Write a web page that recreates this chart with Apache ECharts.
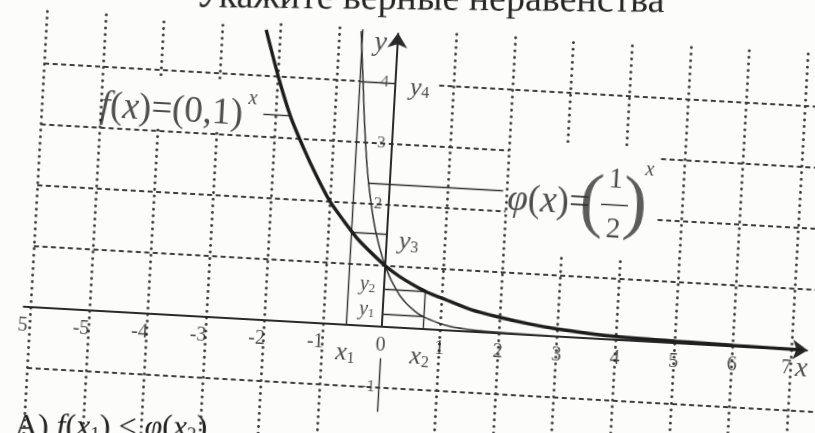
<!DOCTYPE html>
<html>
<head>
<meta charset="utf-8">
<title>f(x)=(0,1)^x и φ(x)=(1/2)^x</title>
<script src="https://cdn.jsdelivr.net/npm/echarts@6/dist/echarts.min.js"></script>
<style>
html, body { margin: 0; padding: 0; width: 815px; height: 433px; overflow: hidden; background: #fcfcfb; }
/* the page was scanned a little askew, so the whole drawing is turned a few degrees */
#chart { position: absolute; left: -40px; top: -40px; width: 895px; height: 513px; transform: rotate(3.2deg); }
</style>
</head>
<body>
<div id="chart"></div>
<script>
// values, in graph units
var halfCurve = [[-2.25, 4.75], [-2, 4.0], [-1.75, 3.35], [-1.5, 2.85], [-1.25, 2.4], [-1, 2.0], [-0.75, 1.7],
    [-0.5, 1.42], [-0.25, 1.2], [0, 1.0], [0.25, 0.84], [0.5, 0.71], [0.75, 0.6], [1, 0.52], [1.5, 0.36],
    [2, 0.26], [2.5, 0.18], [3, 0.12], [3.5, 0.08], [4, 0.05], [5, 0.03], [6, 0.015], [7.2, 0.0]];
var tenthCurve = [[-0.63, 4.82], [-0.59, 4.4], [-0.55, 4.0], [-0.5, 3.45], [-0.45, 3.0], [-0.4, 2.6],
    [-0.35, 2.28], [-0.3, 2.02], [-0.25, 1.78], [-0.2, 1.58], [-0.15, 1.41], [-0.1, 1.26], [-0.05, 1.12],
    [0, 1.0], [0.1, 0.8], [0.2, 0.64], [0.3, 0.5], [0.4, 0.4], [0.5, 0.32], [0.6, 0.25], [0.7, 0.2],
    [0.8, 0.16], [0.9, 0.13], [1, 0.1], [1.2, 0.06], [1.4, 0.04], [1.7, 0.02], [2.2, 0.01], [3, 0.0]];

var x1 = -0.6, x2 = 0.7;
var y1 = 0.2, y2 = 0.62, y3 = 1.52, y4 = 4;

var xTickValues = [-6, -5, -4, -3, -2, -1, 0, 1, 2, 3, 4, 5, 6, 7];
var xTickText = ['5', '-5', '-4', '-3', '-2', '-1', '0', '1', '2', '3', '4', '5', '6', '7'];
var yTickValues = [4, 3, 2, -1];
var yTickText = ['4', '3', '2', '-1'];

// dotted verticals, with the pieces left blank behind the formulas
var gridXs = [-6, -5, -4, -3, -2, -1, 1, 2, 3, 4, 5, 6, 7];
var gridTop = 4.85, gridBottom = -2.4;
var gridGaps = { '-4': [3.08, 3.92], '-3': [3.08, 3.92], '3': [1.36, 3.2], '4': [1.36, 3.2] };
// dashed horizontals: [y, from x, to x]
var gridRows = [[4, -6, x1], [4, 0.75, 8], [3, -6, 2], [3, 4.6, 8], [2, -6, 2], [2, 4.6, 8], [1, -6, 8], [-1, -6, 8]];

var axisArrows = [[[-6.13, 0], [7.28, 0]], [[0, 0], [0, 4.82]]];
var helperLines = [
    [[0, -1.4], [0, -0.52]],          // y axis below the "0"
    [[x1, 0], [x1, 4.85]],
    [[x1, y4], [0, y4]],
    [[x1, y3], [0, y3]],
    [[0, y2], [x2, y2]],
    [[0, y1], [x2, y1]],
    [[x2, 0], [x2, y2]],
    [[-0.37, 2.34], [1.94, 2.34]],    // leader to φ(x)
    [[-2.22, 3.37], [-1.76, 3.37]],   // leader from f(x)
    [[3.62, 2.21], [4.08, 2.21]]      // fraction bar 1/2
];

// [x, y, kind, text]
var mathLabels = [
    [-5.0, 3.33, 'formula', '{i|f}{n|(}{i|x}{n|)=(0,1)}'],
    [-2.41, 3.6, 'sup', 'x'],
    [2.03, 2.18, 'formula', '{i|φ}{n|(}{i|x}{n|)=}'],
    [3.46, 2.2, 'paren', '('],
    [4.2, 2.2, 'paren', ')'],
    [3.85, 2.62, 'digit', '1'],
    [3.85, 1.8, 'digit', '2'],
    [4.42, 2.8, 'sup', 'x'],
    [-0.29, 4.64, 'name', 'y'],
    [7.19, -0.31, 'name', 'x'],
    [0.42, 3.93, 'sub', '{i|y}{s|4}'],
    [0.38, 1.40, 'sub', '{i|y}{s|3}'],
    [-0.28, 0.67, 'subSmall', '{i|y}{s|2}'],
    [-0.27, 0.26, 'subSmall', '{i|y}{s|1}'],
    [-0.6, -0.47, 'sub', '{i|x}{s|1}'],
    [0.67, -0.47, 'sub', '{i|x}{s|2}']
];

var serif = 'Liberation Serif';
var ink = '#222';

function richPair(big, small) {
    return {
        i: { fontFamily: serif, fontStyle: 'italic', fontSize: big, color: ink },
        n: { fontFamily: serif, fontSize: big, color: ink },
        s: { fontFamily: serif, fontSize: small, color: ink, verticalAlign: 'bottom' }
    };
}
var kinds = {
    tick: { fontFamily: serif, fontSize: 20, color: '#1e1e1e' },
    ytick: { fontFamily: serif, fontSize: 17, color: '#3a3a3a' },
    formula: { align: 'left', rich: richPair(37, 20) },
    paren: { fontFamily: serif, fontSize: 72, color: '#333' },
    digit: { fontFamily: serif, fontSize: 29, color: ink },
    sup: { fontFamily: serif, fontStyle: 'italic', fontSize: 20, color: ink },
    name: { fontFamily: serif, fontStyle: 'italic', fontSize: 28, color: ink },
    sub: { rich: richPair(26, 16) },
    subSmall: { rich: richPair(20, 13) }
};

function labelItem(x, y, kind, text) {
    var label = Object.assign({ show: true, formatter: text, verticalAlign: 'middle' }, kinds[kind]);
    if (label.align === 'left') {
        label.position = [0, 0];
    } else {
        label.position = 'inside';
        label.align = 'center';
    }
    return { value: [x, y], label: label };
}

var labelData = [];
xTickValues.forEach(function (v, k) {
    var shift = v < 0 ? -0.12 : (v === 7 ? -0.07 : 0);
    labelData.push(labelItem(v + shift, -0.31, 'tick', xTickText[k]));
});
yTickValues.forEach(function (v, k) {
    labelData.push(labelItem(-0.18, v, 'ytick', yTickText[k]));
});
mathLabels.forEach(function (m) {
    labelData.push(labelItem(m[0], m[1], m[2], m[3]));
});

var vertSegs = [];
gridXs.forEach(function (x) {
    var gap = gridGaps[String(x)];
    if (gap) {
        vertSegs.push({ coords: [[x, gridBottom], [x, gap[0]]] });
        vertSegs.push({ coords: [[x, gap[1]], [x, gridTop]] });
    } else {
        vertSegs.push({ coords: [[x, gridBottom], [x, gridTop]] });
    }
});
var rowSegs = gridRows.map(function (r) { return { coords: [[r[1], r[0]], [r[2], r[0]]] }; });

var chart = echarts.init(document.getElementById('chart'));
var option = {
    animation: false,
    grid: { left: 0, right: 0, top: 0, bottom: 0 },
    xAxis: { type: 'value', min: -7.3, max: 7.97, show: false },
    yAxis: { type: 'value', min: -2.38, max: 6.03, show: false },
    graphic: [{
        type: 'text', x: 693, y: 47, rotation: 0.045,
        style: {
            text: 'Укажите верные неравенства', textAlign: 'right', textVerticalAlign: 'bottom',
            fontFamily: serif, fontSize: 38, fill: '#262626'
        }
    }, {
        type: 'text', x: 68, y: 505, rotation: 0.05,
        style: {
            text: '{n|А) }{i|f}{n|(}{i|x}{s|1}{n|) < }{i|φ}{n|(}{i|x}{s|2}{n|)}', textAlign: 'left', textVerticalAlign: 'bottom',
            rich: {
                n: { fontFamily: serif, fontSize: 32, fill: ink },
                i: { fontFamily: serif, fontStyle: 'italic', fontSize: 32, fill: ink },
                s: { fontFamily: serif, fontSize: 19, fill: ink, verticalAlign: 'bottom' }
            }
        }
    }],
    series: [{
        type: 'lines', coordinateSystem: 'cartesian2d', silent: true, z: 1,
        data: vertSegs,
        lineStyle: { color: '#333', width: 2.8, type: [0.1, 6.5], cap: 'round', opacity: 1 }
    }, {
        type: 'lines', coordinateSystem: 'cartesian2d', silent: true, z: 1,
        data: rowSegs,
        lineStyle: { color: '#3c3c3c', width: 1.9, type: [5, 3.5], opacity: 1 }
    }, {
        type: 'lines', coordinateSystem: 'cartesian2d', silent: true, z: 3,
        data: axisArrows.map(function (s) { return { coords: s }; }),
        symbol: ['none', 'arrow'], symbolSize: [9, 15],
        lineStyle: { color: '#2a2a2a', width: 2, opacity: 1 }
    }, {
        type: 'lines', coordinateSystem: 'cartesian2d', silent: true, z: 3,
        data: helperLines.map(function (s) { return { coords: s }; }),
        lineStyle: { color: '#333', width: 1.4, opacity: 1 }
    }, {
        type: 'line', data: tenthCurve, smooth: 0.25, showSymbol: false, z: 4,
        lineStyle: { color: '#333', width: 1.5 }
    }, {
        type: 'line', data: halfCurve, smooth: 0.25, showSymbol: false, z: 5,
        lineStyle: { color: '#1e1e1e', width: 3.4 }
    }, {
        type: 'scatter', data: labelData, symbolSize: 1, silent: true, z: 6,
        itemStyle: { color: 'transparent' }
    }]
};
chart.setOption(option);
</script>
</body>
</html>
